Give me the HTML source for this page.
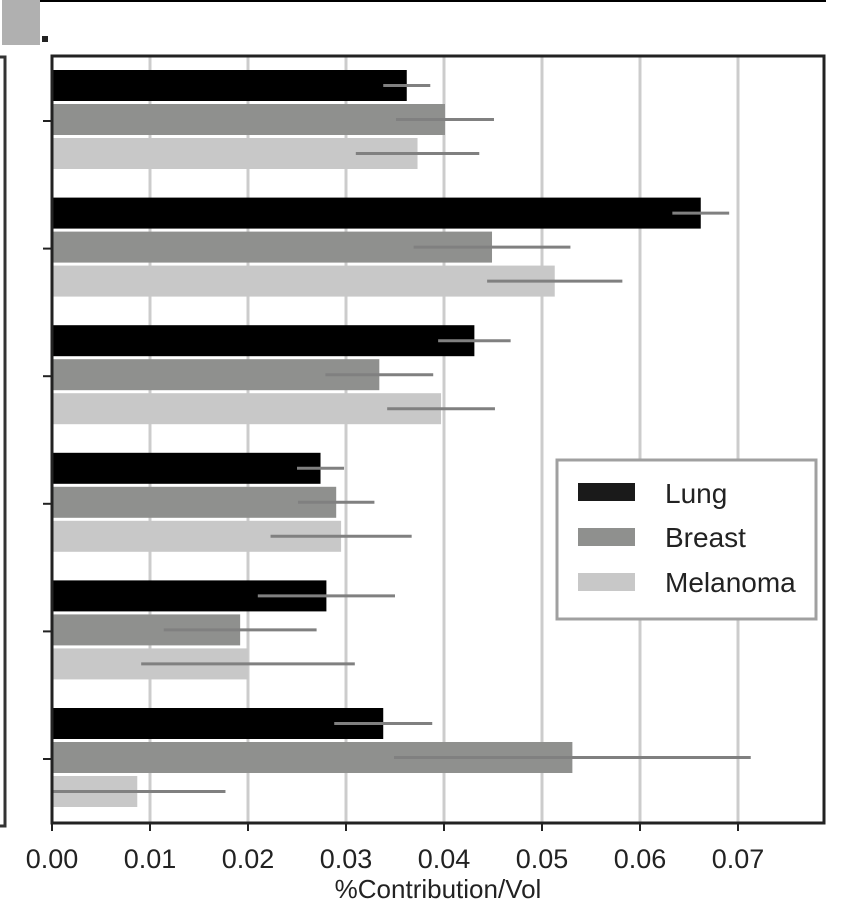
<!DOCTYPE html>
<html><head><meta charset="utf-8"><style>
html,body{margin:0;padding:0;background:#fff}
svg{display:block;font-family:"Liberation Sans",Arial,sans-serif}
</style></head><body>
<svg id="chart" width="850" height="911" viewBox="0 0 850 911">
  <rect x="2" y="0" width="38" height="45" fill="#b0b0b0"/>
  <rect x="42" y="36" width="6" height="6" fill="#222"/>
  <line x1="40" y1="1" x2="826" y2="1" stroke="#000" stroke-width="2"/>
  <path d="M0 57 H5 V826 H0" fill="none" stroke="#333" stroke-width="3"/>
  <g id="grid"></g>
  <g id="bars"></g>
  <g id="errs"></g>
  <rect x="52" y="56" width="772" height="767" fill="none" stroke="#222" stroke-width="3"/>
  <g id="xticks"></g>
  <g id="yticks"></g>
  <text x="438" y="898" font-size="26" text-anchor="middle" fill="#222">%Contribution/Vol</text>
  <g>
    <rect x="557" y="460" width="259" height="159" fill="#fff" stroke="#a0a0a0" stroke-width="3"/>
    <g><rect x="578" y="483" width="57" height="18" fill="#1a1a1a"/><text x="665" y="503" font-size="28" fill="#222">Lung</text></g>
    <g><rect x="578" y="528" width="57" height="18" fill="#8f908e"/><text x="665" y="547" font-size="28" fill="#222">Breast</text></g>
    <g><rect x="578" y="573" width="57" height="18" fill="#c8c8c8"/><text x="665" y="592" font-size="28" fill="#222">Melanoma</text></g>
  </g>
</svg>
<script>
const categories = ["g1","g2","g3","g4","g5","g6"];
const seriesNames = ["Lung","Breast","Melanoma"];
const lungValues = [0.0362,0.0662,0.0431,0.0274,0.0280,0.0338];
const breastValues = [0.0401,0.0449,0.0334,0.0290,0.0192,0.0531];
const melanomaValues = [0.0373,0.0513,0.0397,0.0295,0.0200,0.0087];
const lungErr = [0.0024,0.0029,0.0037,0.0024,0.0070,0.0050];
const breastErr = [0.0050,0.0080,0.0055,0.0039,0.0078,0.0182];
const melanomaErr = [0.0063,0.0069,0.0055,0.0072,0.0109,0.0090];
const xTickLabels = ["0.00","0.01","0.02","0.03","0.04","0.05","0.06","0.07"];

const NS="http://www.w3.org/2000/svg";
const x0=52, pxPer=9800;
const xs = v => x0 + v*pxPer;
const groupY = i => 121 + i*127.6;
const colors=["#000","#8f908e","#c8c8c8"];
const vals=[lungValues,breastValues,melanomaValues];
const errs=[lungErr,breastErr,melanomaErr];
function mk(tag,attrs,parent){const e=document.createElementNS(NS,tag);for(const k in attrs)e.setAttribute(k,attrs[k]);parent.appendChild(e);return e;}
const grid=document.getElementById('grid'),bars=document.getElementById('bars'),eg=document.getElementById('errs'),xt=document.getElementById('xticks'),yt=document.getElementById('yticks');
xTickLabels.forEach((t,i)=>{
  const v=parseFloat(t), x=xs(v);
  if(i>0){const g=mk('line',{x1:x,y1:57,x2:x,y2:822,stroke:'#cccccc','stroke-width':3},grid);
  
  }
  const tk=mk('line',{x1:x,y1:823,x2:x,y2:831,stroke:'#222','stroke-width':2},xt);
  
  
  const tx=mk('text',{x:x,y:868,'font-size':27,'text-anchor':'middle',fill:'#222'},xt);
  tx.textContent=t;
  
  
});
categories.forEach((c,i)=>{
  const cy=groupY(i);
  const tk=mk('line',{x1:43,y1:cy,x2:51,y2:cy,stroke:'#222','stroke-width':2},yt);
  
  
  for(let s=0;s<3;s++){
    const by=cy-51+s*34, h=31, v=vals[s][i];
    const r=mk('rect',{x:x0,y:by,width:xs(v)-x0,height:h,fill:colors[s]},bars);
    
    
    const ey=by+h/2, e=errs[s][i];
    const l=mk('line',{x1:Math.max(x0,xs(v-e)),y1:ey,x2:xs(v+e),y2:ey,stroke:'#808080','stroke-width':3},eg);
    
    
  }
});
</script>
</body></html>
